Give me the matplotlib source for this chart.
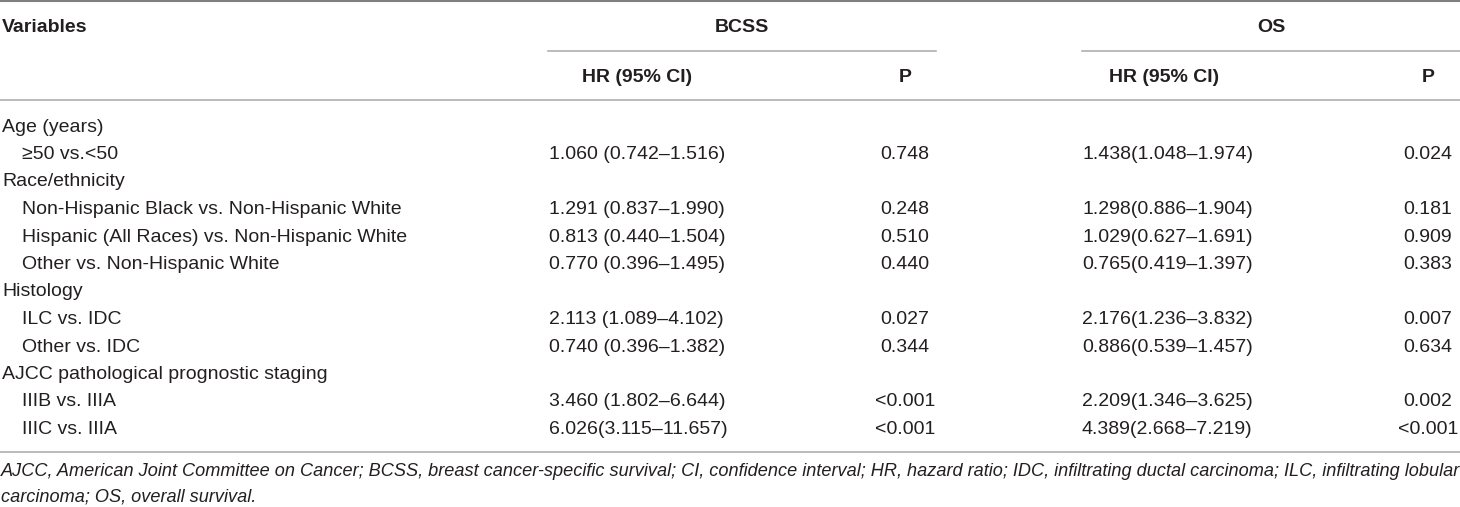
import matplotlib
matplotlib.use('Agg')
import matplotlib.pyplot as plt

# ── Table content ──
col_groups = ['BCSS', 'OS']
sub_headers = ['HR (95% CI)', 'P', 'HR (95% CI)', 'P']

row_labels = [
    'Age (years)',
    '≥50 vs.<50',
    'Race/ethnicity',
    'Non-Hispanic Black vs. Non-Hispanic White',
    'Hispanic (All Races) vs. Non-Hispanic White',
    'Other vs. Non-Hispanic White',
    'Histology',
    'ILC vs. IDC',
    'Other vs. IDC',
    'AJCC pathological prognostic staging',
    'IIIB vs. IIIA',
    'IIIC vs. IIIA',
]
is_group = [True, False, True, False, False, False, True, False, False, True, False, False]

bcss_hr = ['', '1.060 (0.742–1.516)', '', '1.291 (0.837–1.990)', '0.813 (0.440–1.504)',
           '0.770 (0.396–1.495)', '', '2.113 (1.089–4.102)', '0.740 (0.396–1.382)', '',
           '3.460 (1.802–6.644)', '6.026(3.115–11.657)']
bcss_p = ['', '0.748', '', '0.248', '0.510', '0.440', '', '0.027', '0.344', '',
          '<0.001', '<0.001']
os_hr = ['', '1.438(1.048–1.974)', '', '1.298(0.886–1.904)', '1.029(0.627–1.691)',
         '0.765(0.419–1.397)', '', '2.176(1.236–3.832)', '0.886(0.539–1.457)', '',
         '2.209(1.346–3.625)', '4.389(2.668–7.219)']
os_p = ['', '0.024', '', '0.181', '0.909', '0.383', '', '0.007', '0.634', '',
        '0.002', '<0.001']

footnote = [
    'AJCC, American Joint Committee on Cancer; BCSS, breast cancer-specific survival; '
    'CI, confidence interval; HR, hazard ratio; IDC, infiltrating ductal carcinoma; ILC, infiltrating lobular',
    'carcinoma; OS, overall survival.',
]

# ── Canvas in pixel coordinates ──
W, H = 1460, 507
fig = plt.figure(figsize=(W / 100, H / 100), dpi=100)
fig.patch.set_facecolor('white')
ax = fig.add_axes([0, 0, 1, 1])
ax.set_xlim(0, W)
ax.set_ylim(H, 0)
ax.axis('off')

plt.rcParams['font.family'] = ['Liberation Sans', 'DejaVu Sans']
txt = '#231f20'
fs = 14

# rules
ax.plot([0, W], [1, 1], color='#808080', lw=1.5, solid_capstyle='butt')
ax.plot([548, 936], [51, 51], color='#a8a8a8', lw=1.1)
ax.plot([1082, W], [51, 51], color='#a8a8a8', lw=1.1)
ax.plot([0, W], [100, 100], color='#a8a8a8', lw=1.1)
ax.plot([0, W], [452, 452], color='#a8a8a8', lw=1.1)

# headers
ax.text(2, 27, 'Variables', fontsize=fs, fontweight='bold', color=txt, va='center', ha='left')
ax.text(742, 27, col_groups[0], fontsize=fs, fontweight='bold', color=txt, va='center', ha='center')
ax.text(1271, 27, col_groups[1], fontsize=fs, fontweight='bold', color=txt, va='center', ha='center')
head_x = [637, 905, 1164, 1428]
for hx, h in zip(head_x, sub_headers):
    ax.text(hx, 77, h, fontsize=fs, fontweight='bold', color=txt, va='center', ha='center')

# body rows
y0, dy = 127, 27.5
for i, lab in enumerate(row_labels):
    y = y0 + dy * i
    ax.text(2 if is_group[i] else 22, y, lab, fontsize=fs, color=txt, va='center', ha='left')
    ax.text(549, y, bcss_hr[i], fontsize=fs, color=txt, va='center', ha='left')
    ax.text(905, y, bcss_p[i], fontsize=fs, color=txt, va='center', ha='center')
    ax.text(1082, y, os_hr[i], fontsize=fs, color=txt, va='center', ha='left')
    ax.text(1428, y, os_p[i], fontsize=fs, color=txt, va='center', ha='center')

# footnote
for j, line in enumerate(footnote):
    ax.text(1, 472 + 25 * j, line, fontsize=13.1, style='italic', color=txt, va='center', ha='left')

fig.savefig('out.png', dpi=100, facecolor='white')
plt.close(fig)
